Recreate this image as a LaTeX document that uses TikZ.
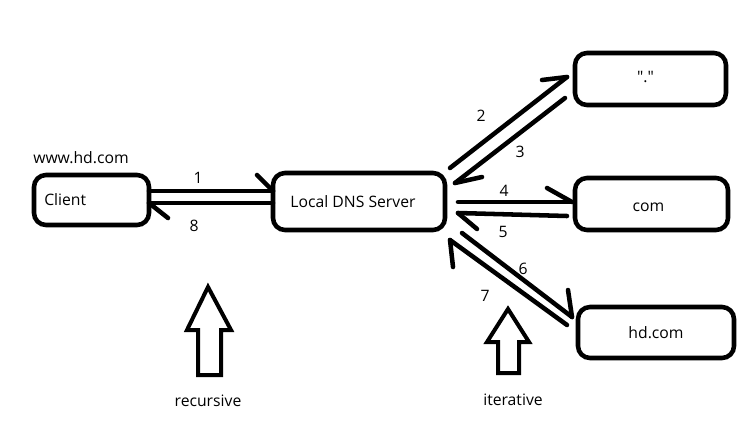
\documentclass[tikz,border=0pt]{standalone}
\usepackage{fontspec}
\setmainfont{Open Sans}
\newfontfamily\qfont{Open Sans}
\usetikzlibrary{calc}
\begin{document}
\begin{tikzpicture}[x=0.75pt,y=-0.75pt,
  box/.style={draw, line width=3.4pt, rounded corners=9pt, inner sep=0pt, outer sep=0pt},
  txt/.style={inner sep=0pt, font=\fontsize{11.8}{13}\selectfont},
  num/.style={inner sep=0pt, font=\fontsize{11.8}{13}\selectfont},
  wire/.style={line width=3.4pt, line cap=round, line join=round},
  blockarrow/.style={draw, line width=3pt, line join=miter, fill=white}]
\useasboundingbox (0,0) rectangle (752,429);
% boxes
\node[box, minimum width=86.25pt, minimum height=37.5pt] (client) at (91.5,200) {};
\node[txt, anchor=west] (clientt) at ($(client.west)+(10,0)$) {Client};
\node[txt, anchor=west] (www) at (33,158) {www.hd.com};
\node[box, minimum width=129pt, minimum height=42.75pt] (ldns) at (359,201.5) {};
\node[txt] (ldnst) at ($(ldns.center)+(-6,0.5)$) {Local DNS Server};
\node[box, minimum width=113.25pt, minimum height=39pt] (root) at (650.5,79) {};
\node[txt] (roott) at ($(root.center)+(-5,-2)$) {\qfont "."};
\node[box, minimum width=114.75pt, minimum height=39pt] (com) at (651.5,204) {};
\node[txt] (comt) at ($(com.center)+(-3,3)$) {com};
\node[box, minimum width=117pt, minimum height=38.25pt] (hd) at (656,332.5) {};
\node[txt] (hdt) at ($(hd.center)+(0,0.5)$) {hd.com};
% 1
\draw[wire] ($(client.east)+(0,-9)$) -- ($(ldns.west)+(0,-10.5)$);
\draw[wire] ($(ldns.west)+(-16,-26.5)$) -- ($(ldns.west)+(0,-10.5)$);
% 8
\draw[wire] ($(ldns.west)+(0,1.5)$) -- ($(client.east)+(0,3)$);
\draw[wire] ($(client.east)+(0,3)$) -- ($(client.east)+(19,18)$);
% 2
\draw[wire] ($(ldns.east)+(5,-33.5)$) -- ($(root.west)+(-8,-2)$);
\draw[wire] ($(root.west)+(-33,1)$) -- ($(root.west)+(-8,-2)$);
% 3
\draw[wire] ($(root.west)+(-10,19)$) -- ($(ldns.east)+(10,-18.5)$);
\draw[wire] ($(ldns.east)+(37,-24.5)$) -- ($(ldns.east)+(10,-18.5)$);
% 4
\draw[wire] ($(ldns.east)+(13,0.5)$) -- ($(com.west)+(-3,-2)$);
\draw[wire] ($(com.west)+(-28,-16)$) -- ($(com.west)+(-3,-2)$);
% 5
\draw[wire] ($(com.west)+(-8,12)$) -- ($(ldns.east)+(13,11.5)$);
\draw[wire] ($(ldns.east)+(32,27.5)$) -- ($(ldns.east)+(13,11.5)$);
% 6
\draw[wire] ($(ldns.east)+(17,31.5)$) -- ($(hd.west)+(-6,-15.5)$);
\draw[wire] ($(hd.west)+(-10,-42.5)$) -- ($(hd.west)+(-6,-15.5)$);
% 7
\draw[wire] ($(hd.west)+(-11,-7.5)$) -- ($(ldns.east)+(5,38.5)$);
\draw[wire] ($(ldns.east)+(8,65.5)$) -- ($(ldns.east)+(5,38.5)$);
% numbers
\node[num] (l1) at (198,178) {1};
\node[num] (l8) at (194,226) {8};
\node[num] (l2) at (481,116) {2};
\node[num] (l3) at (520,152) {3};
\node[num] (l4) at (504,191) {4};
\node[num] (l5) at (503,232) {5};
\node[num] (l6) at (523,269) {6};
\node[num] (l7) at (485,296) {7};
% block arrows
\draw[blockarrow] (208,287) -- (231,330) -- (221,330) -- (221,375) -- (198,375) -- (198,330) -- (187,330) -- cycle;
\draw[blockarrow] (508,309) -- (529,342) -- (519,342) -- (519,373) -- (498,373) -- (498,342) -- (487,342) -- cycle;
\node[txt] (rec) at (208,401) {recursive};
\node[txt] (iter) at (513,400) {iterative};
\end{tikzpicture}
\end{document}
